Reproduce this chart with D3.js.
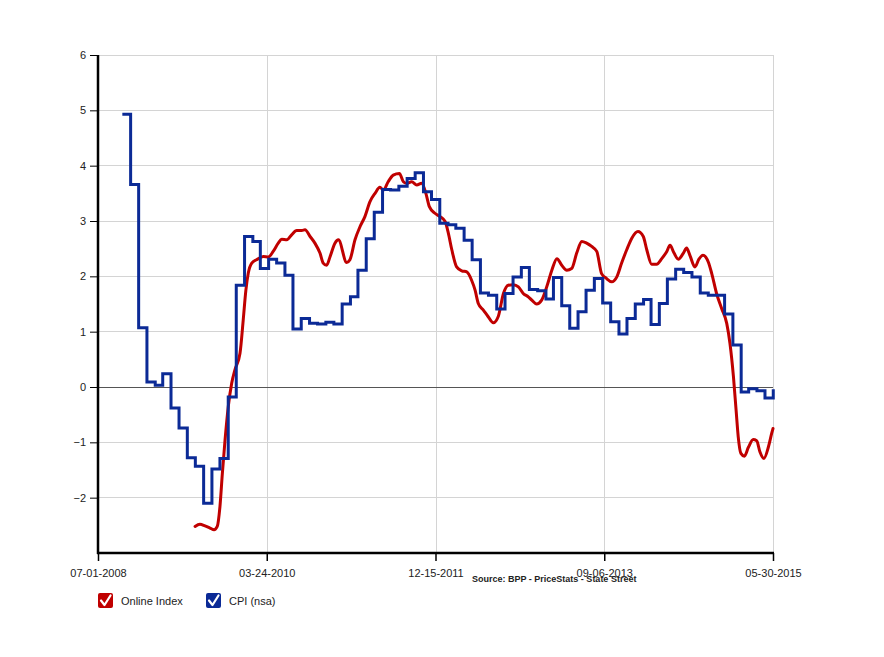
<!DOCTYPE html>
<html>
<head>
<meta charset="utf-8">
<script src="https://cdn.jsdelivr.net/npm/d3@7"></script>
<style>
  html, body { margin: 0; padding: 0; background: #fff; }
  svg { display: block; font-family: "Liberation Sans", Arial, Helvetica, sans-serif; }
</style>
</head>
<body>
<svg id="chart" width="884" height="657"></svg>
<script>
// ---------- DATA ----------
const xTickLabels = ["2008-07-01", "2010-03-24", "2011-12-15", "2013-09-06", "2015-05-30"];
const yTickValues = [-2, -1, 0, 1, 2, 3, 4, 5, 6];

// CPI (nsa), year-over-year %, monthly (plotted at month end)
const cpiMonths = [
  "2008-09","2008-10","2008-11","2008-12",
  "2009-01","2009-02","2009-03","2009-04","2009-05","2009-06","2009-07","2009-08","2009-09","2009-10","2009-11","2009-12",
  "2010-01","2010-02","2010-03","2010-04","2010-05","2010-06","2010-07","2010-08","2010-09","2010-10","2010-11","2010-12",
  "2011-01","2011-02","2011-03","2011-04","2011-05","2011-06","2011-07","2011-08","2011-09","2011-10","2011-11","2011-12",
  "2012-01","2012-02","2012-03","2012-04","2012-05","2012-06","2012-07","2012-08","2012-09","2012-10","2012-11","2012-12",
  "2013-01","2013-02","2013-03","2013-04","2013-05","2013-06","2013-07","2013-08","2013-09","2013-10","2013-11","2013-12",
  "2014-01","2014-02","2014-03","2014-04","2014-05","2014-06","2014-07","2014-08","2014-09","2014-10","2014-11","2014-12",
  "2015-01","2015-02","2015-03","2015-04","2015-05"
];
const cpiValues = [
  4.93, 3.66, 1.07, 0.09,
  0.03, 0.24, -0.38, -0.74, -1.28, -1.43, -2.10, -1.48, -1.29, -0.18, 1.84, 2.72,
  2.63, 2.14, 2.31, 2.24, 2.02, 1.05, 1.24, 1.15, 1.14, 1.17, 1.14, 1.50,
  1.63, 2.11, 2.68, 3.16, 3.57, 3.56, 3.63, 3.77, 3.87, 3.53, 3.39, 2.96,
  2.93, 2.87, 2.65, 2.30, 1.70, 1.66, 1.41, 1.69, 1.99, 2.16, 1.76, 1.74,
  1.59, 1.98, 1.47, 1.06, 1.36, 1.75, 1.96, 1.52, 1.18, 0.96, 1.24, 1.50,
  1.58, 1.13, 1.51, 1.95, 2.13, 2.07, 1.99, 1.70, 1.66, 1.66, 1.32, 0.76,
  -0.09, -0.03, -0.07, -0.20, -0.04
];

// Online Index, year-over-year %
const onlineDates = [
  "2009-06-29","2009-07-17","2009-08-05","2009-08-24","2009-09-08","2009-09-20","2009-09-30","2009-10-09","2009-10-19","2009-10-31",
  "2009-11-13","2009-11-25","2009-12-14","2009-12-26","2010-01-05","2010-01-14","2010-01-27","2010-02-14","2010-03-11","2010-03-30",
  "2010-04-17","2010-05-06","2010-05-19","2010-06-07","2010-06-25","2010-07-14","2010-08-02","2010-08-14","2010-09-02","2010-09-20",
  "2010-10-09","2010-10-21","2010-11-03","2010-11-16","2010-12-04","2010-12-17","2011-01-17","2011-01-29","2011-02-17","2011-03-08",
  "2011-03-26","2011-04-14","2011-05-03","2011-05-21","2011-06-03","2011-06-21","2011-07-10","2011-08-02","2011-08-17","2011-08-29",
  "2011-09-17","2011-10-06","2011-10-24","2011-11-09","2011-11-22","2011-12-13","2012-01-01","2012-01-20","2012-02-01","2012-02-14",
  "2012-03-03","2012-03-22","2012-04-10","2012-04-28","2012-05-11","2012-05-23","2012-06-11","2012-06-29","2012-07-18","2012-08-06",
  "2012-08-25","2012-09-12","2012-10-01","2012-10-20","2012-11-07","2012-11-26","2012-12-09","2012-12-27","2013-01-15","2013-02-03",
  "2013-02-22","2013-03-13","2013-03-31","2013-04-19","2013-05-07","2013-05-26","2013-06-14","2013-07-02","2013-07-21","2013-08-09",
  "2013-08-27","2013-09-15","2013-10-04","2013-10-23","2013-11-10","2013-11-29","2013-12-18","2014-01-10","2014-01-30","2014-02-12",
  "2014-03-02","2014-03-21","2014-04-09","2014-04-28","2014-05-10","2014-05-25","2014-06-10","2014-06-29","2014-07-11","2014-07-24",
  "2014-08-11","2014-08-26","2014-09-10","2014-09-30","2014-10-13","2014-10-31","2014-11-19","2014-12-08","2014-12-20","2015-01-02",
  "2015-01-12","2015-01-20","2015-01-30","2015-02-12","2015-02-27","2015-03-17","2015-03-30","2015-04-11","2015-04-26","2015-05-13",
  "2015-05-25","2015-05-30"
];
const onlineValues = [
  -2.52, -2.48, -2.51, -2.55, -2.58, -2.52, -2.16, -1.56, -0.96, -0.36,
  0.07, 0.31, 0.61, 1.21, 1.75, 2.06, 2.24, 2.30, 2.36, 2.35,
  2.45, 2.60, 2.67, 2.66, 2.75, 2.83, 2.83, 2.84, 2.72, 2.60,
  2.42, 2.24, 2.20, 2.36, 2.60, 2.66, 2.25, 2.30, 2.66, 2.90,
  3.08, 3.35, 3.50, 3.61, 3.56, 3.71, 3.83, 3.86, 3.71, 3.68,
  3.71, 3.65, 3.68, 3.50, 3.26, 3.14, 3.08, 2.99, 2.78, 2.48,
  2.17, 2.10, 2.08, 1.93, 1.75, 1.51, 1.39, 1.27, 1.16, 1.28,
  1.69, 1.84, 1.85, 1.81, 1.69, 1.63, 1.57, 1.50, 1.57, 1.81,
  2.11, 2.32, 2.20, 2.11, 2.14, 2.42, 2.63, 2.60, 2.54, 2.45,
  2.05, 1.96, 1.90, 1.99, 2.24, 2.48, 2.69, 2.81, 2.72, 2.48,
  2.22, 2.22, 2.32, 2.45, 2.56, 2.42, 2.31, 2.42, 2.51, 2.37,
  2.17, 2.31, 2.38, 2.26, 2.05, 1.69, 1.42, 1.15, 0.79, 0.19,
  -0.42, -0.90, -1.20, -1.25, -1.09, -0.95, -0.97, -1.17, -1.29, -1.08,
  -0.84, -0.75
];

const seriesNames = ["Online Index", "CPI (nsa)"];
const seriesColors = ["#c00000", "#0b2a96"];
const sourceText = "Source: BPP - PriceStats - State Street";

// ---------- LAYOUT ----------
const parseDay = d3.timeParse("%Y-%m-%d");
const parseMonth = d3.timeParse("%Y-%m");
const fmt = d3.timeFormat("%m-%d-%Y");

const pLeft = 98, pRight = 773, pTop = 55, pBottom = 553;
const svg = d3.select("#chart");

const xTicks = xTickLabels.map(parseDay);
const x = d3.scaleTime().domain([xTicks[0], xTicks[xTicks.length - 1]]).range([pLeft, pRight]);
const y = d3.scaleLinear().domain([-3, 6]).range([pBottom, pTop]);

// gridlines
const grid = svg.append("g");
grid.selectAll("line.h").data(yTickValues.filter(v => v !== 0)).join("line")
  .attr("x1", pLeft).attr("x2", pRight)
  .attr("y1", d => y(d)).attr("y2", d => y(d))
  .attr("stroke", "#d4d4d4").attr("stroke-width", 1).attr("shape-rendering", "crispEdges");
grid.selectAll("line.v").data(xTicks.slice(1)).join("line")
  .attr("x1", d => Math.round(x(d)) + 0.5).attr("x2", d => Math.round(x(d)) + 0.5)
  .attr("y1", pTop).attr("y2", pBottom)
  .attr("stroke", "#d4d4d4").attr("stroke-width", 1);
grid.append("line")
  .attr("x1", pLeft).attr("x2", pRight).attr("y1", y(0)).attr("y2", y(0))
  .attr("stroke", "#555").attr("stroke-width", 1).attr("shape-rendering", "crispEdges");

// clip
svg.append("clipPath").attr("id", "clip").append("rect")
  .attr("x", pLeft).attr("y", pTop - 5).attr("width", pRight - pLeft + 2).attr("height", pBottom - pTop + 5);

const plot = svg.append("g").attr("clip-path", "url(#clip)");

const monthEnd = m => d3.timeDay.offset(d3.timeMonth.offset(m, 1), -1);
const cpiData = cpiMonths.map((m, i) => ({ date: monthEnd(parseMonth(m)), value: cpiValues[i] }));
const onlineData = onlineDates.map((d, i) => ({ date: parseDay(d), value: onlineValues[i] }));

plot.append("path").datum(onlineData)
  .attr("fill", "none").attr("stroke", seriesColors[0]).attr("stroke-width", 3)
  .attr("stroke-linejoin", "round").attr("stroke-linecap", "round")
  .attr("d", d3.line().x(d => x(d.date)).y(d => y(d.value)).curve(d3.curveMonotoneX));

plot.append("path").datum(cpiData)
  .attr("fill", "none").attr("stroke", seriesColors[1]).attr("stroke-width", 3)
  .attr("stroke-linejoin", "miter")
  .attr("d", d3.line().x(d => x(d.date)).y(d => y(d.value)).curve(d3.curveStepAfter));

// axes
const yAxis = svg.append("g").attr("transform", `translate(${pLeft},0)`)
  .call(d3.axisLeft(y).tickValues(yTickValues).tickSize(8).tickPadding(4).tickFormat(d3.format("d")));
yAxis.select(".domain").remove();
yAxis.selectAll(".tick line").attr("stroke", "#000").attr("stroke-width", 1);
yAxis.selectAll(".tick text").attr("fill", "#222").style("font-size", "11px")
  .style("font-family", '"Liberation Sans", Arial, sans-serif');

const xAxis = svg.append("g").attr("transform", `translate(0,${pBottom})`)
  .call(d3.axisBottom(x).tickValues(xTicks).tickSize(8).tickPadding(8).tickFormat(fmt));
xAxis.select(".domain").remove();
xAxis.selectAll(".tick line").attr("stroke", "#000").attr("stroke-width", 1.5);
xAxis.selectAll(".tick text").attr("fill", "#222").style("font-size", "11px")
  .style("font-family", '"Liberation Sans", Arial, sans-serif');

svg.append("line").attr("x1", pLeft).attr("x2", pLeft).attr("y1", pTop).attr("y2", pBottom + 1)
  .attr("stroke", "#000").attr("stroke-width", 2.5);
svg.append("line").attr("x1", pLeft - 1).attr("x2", pRight + 1).attr("y1", pBottom).attr("y2", pBottom)
  .attr("stroke", "#000").attr("stroke-width", 2.5);

// source
svg.append("text").attr("x", 472).attr("y", 582)
  .style("font-size", "9px").style("font-weight", "bold").attr("fill", "#222")
  .text(sourceText);

// legend
const legendX = [98, 206];
const lg = svg.append("g");
seriesNames.forEach((name, i) => {
  const g = lg.append("g").attr("transform", `translate(${legendX[i]},593)`);
  g.append("rect").attr("width", 15).attr("height", 15).attr("rx", 2)
    .attr("fill", seriesColors[i]);
  g.append("path").attr("d", "M3,7.5 L6.5,12 L12.5,2.5")
    .attr("fill", "none").attr("stroke", "#fff").attr("stroke-width", 2.2)
    .attr("stroke-linecap", "round").attr("stroke-linejoin", "round");
  g.append("text").attr("x", 23).attr("y", 11.5)
    .style("font-size", "11px").attr("fill", "#222").text(name);
});
</script>
</body>
</html>
